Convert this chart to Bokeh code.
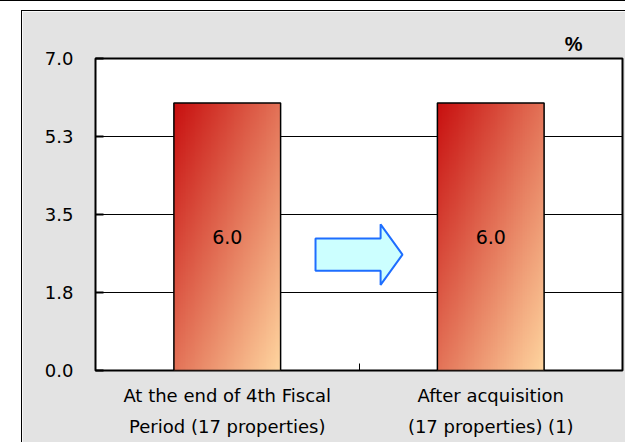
import numpy as np
from bokeh.plotting import figure
from bokeh.models import Range1d, FixedTicker, PrintfTickFormatter, Spacer
from bokeh.layouts import column, row
from bokeh.embed import file_html
from bokeh.resources import INLINE
from bokeh.core.properties import value

# ---- data ----
categories = ["At the end of 4th Fiscal\nPeriod (17 properties)",
              "After acquisition\n(17 properties) (1)"]
yields = [6.0, 6.0]
y_ticks = [0.0, 1.75, 3.5, 5.25, 7.0]
y_tick_labels = ["0.0", "1.8", "3.5", "5.3", "7.0"]
unit_label = "%"

FONT = "DejaVu Sans"
n = len(categories)
x_pos = [i + 0.5 for i in range(n)]
bar_w = 0.405

p = figure(width=604, height=432, output_backend="svg", toolbar_location=None,
           x_range=Range1d(0, n), y_range=Range1d(y_ticks[0], y_ticks[-1]),
           min_border_left=73, min_border_right=4, min_border_top=47, min_border_bottom=73,
           title=unit_label)
p.border_fill_color = "#E3E3E3"
p.background_fill_color = "white"
p.outline_line_color = "black"
p.outline_line_width = 2
p.styles = {"border-top": "1px solid black", "border-left": "1px solid black"}

p.title.align = "right"
p.title.offset = 40
p.title.text_font = "Liberation Sans"
p.title.text_font_size = "20px"
p.title.text_font_style = "bold"
p.title.text_color = "black"
p.title.standoff = 8

# grid
p.xgrid.visible = False
p.ygrid.ticker = FixedTicker(ticks=y_ticks)
p.ygrid.grid_line_color = "black"
p.ygrid.grid_line_width = 1
p.ygrid.grid_line_alpha = 1.0

# y axis
p.yaxis.ticker = FixedTicker(ticks=y_ticks)
p.yaxis.formatter = PrintfTickFormatter(format="%.1f")
p.yaxis.major_label_overrides = dict(zip(y_ticks, y_tick_labels))
p.yaxis.axis_line_color = None
p.yaxis.major_tick_in = 8
p.yaxis.major_tick_out = 0
p.yaxis.major_tick_line_width = 2
p.yaxis.major_tick_line_color = "black"
p.yaxis.minor_tick_line_color = None
p.yaxis.major_label_standoff = 22
p.yaxis.major_label_text_font = FONT
p.yaxis.major_label_text_font_size = "18px"
p.yaxis.major_label_text_color = "black"

# x axis
p.xaxis.ticker = FixedTicker(ticks=x_pos, minor_ticks=[float(i) for i in range(1, n)])
p.xaxis.major_label_overrides = dict(zip(x_pos, categories))
p.xaxis.axis_line_color = None
p.xaxis.major_tick_in = 0
p.xaxis.major_tick_out = 0
p.xaxis.minor_tick_in = 7
p.xaxis.minor_tick_out = 0
p.xaxis.minor_tick_line_color = "black"
p.xaxis.minor_tick_line_width = 1
p.xaxis.major_label_standoff = 14
p.xaxis.major_label_text_font = FONT
p.xaxis.major_label_text_font_size = "18px"
p.xaxis.major_label_text_color = "black"
p.xaxis.major_label_text_line_height = 1.5

# gradient-filled bars
c0 = np.array([200, 16, 16], dtype=float)
c1 = np.array([255, 214, 160], dtype=float)
nx, ny = 60, 200
u = np.linspace(0, 1, nx)[None, :]
vf = np.linspace(0, 1, ny)[:, None]  # 0 at bottom
t = (u + (1 - vf)) / 2.0
for xc, val in zip(x_pos, yields):
    img = np.empty((ny, nx), dtype=np.uint32)
    view = img.view(dtype=np.uint8).reshape((ny, nx, 4))
    for k in range(3):
        view[:, :, k] = (c0[k] + (c1[k] - c0[k]) * t).astype(np.uint8)
    view[:, :, 3] = 255
    p.image_rgba(image=[img], x=xc - bar_w / 2, y=0, dw=bar_w, dh=val)

p.vbar(x=x_pos, top=yields, width=bar_w, fill_alpha=0,
       line_color="black", line_width=1.5)

p.text(x=x_pos, y=[v / 2 for v in yields], text=[f"{v:.1f}" for v in yields],
       text_align="center", text_baseline="middle",
       text_font=value(FONT), text_font_size="19px", text_color="black")

# arrow between the two categories
ax, ay = 1.0, 2.6
a_len, shaft_h, head_h, head_len = 0.33, 0.36, 0.68, 0.083
x0, x1 = ax - a_len / 2, ax + a_len / 2
xb = x1 - head_len
arrow_x = [x0, xb, xb, x1, xb, xb, x0]
arrow_y = [ay + shaft_h, ay + shaft_h, ay + head_h, ay, ay - head_h, ay - shaft_h, ay - shaft_h]
p.patch(arrow_x, arrow_y, fill_color="#CCFFFF", line_color="#1E6EFF", line_width=2)

layout = column(Spacer(height=9), row(Spacer(width=21), p),
                styles={"border-top": "1px solid black"})

open("out.html", "w").write(file_html(layout, INLINE))
